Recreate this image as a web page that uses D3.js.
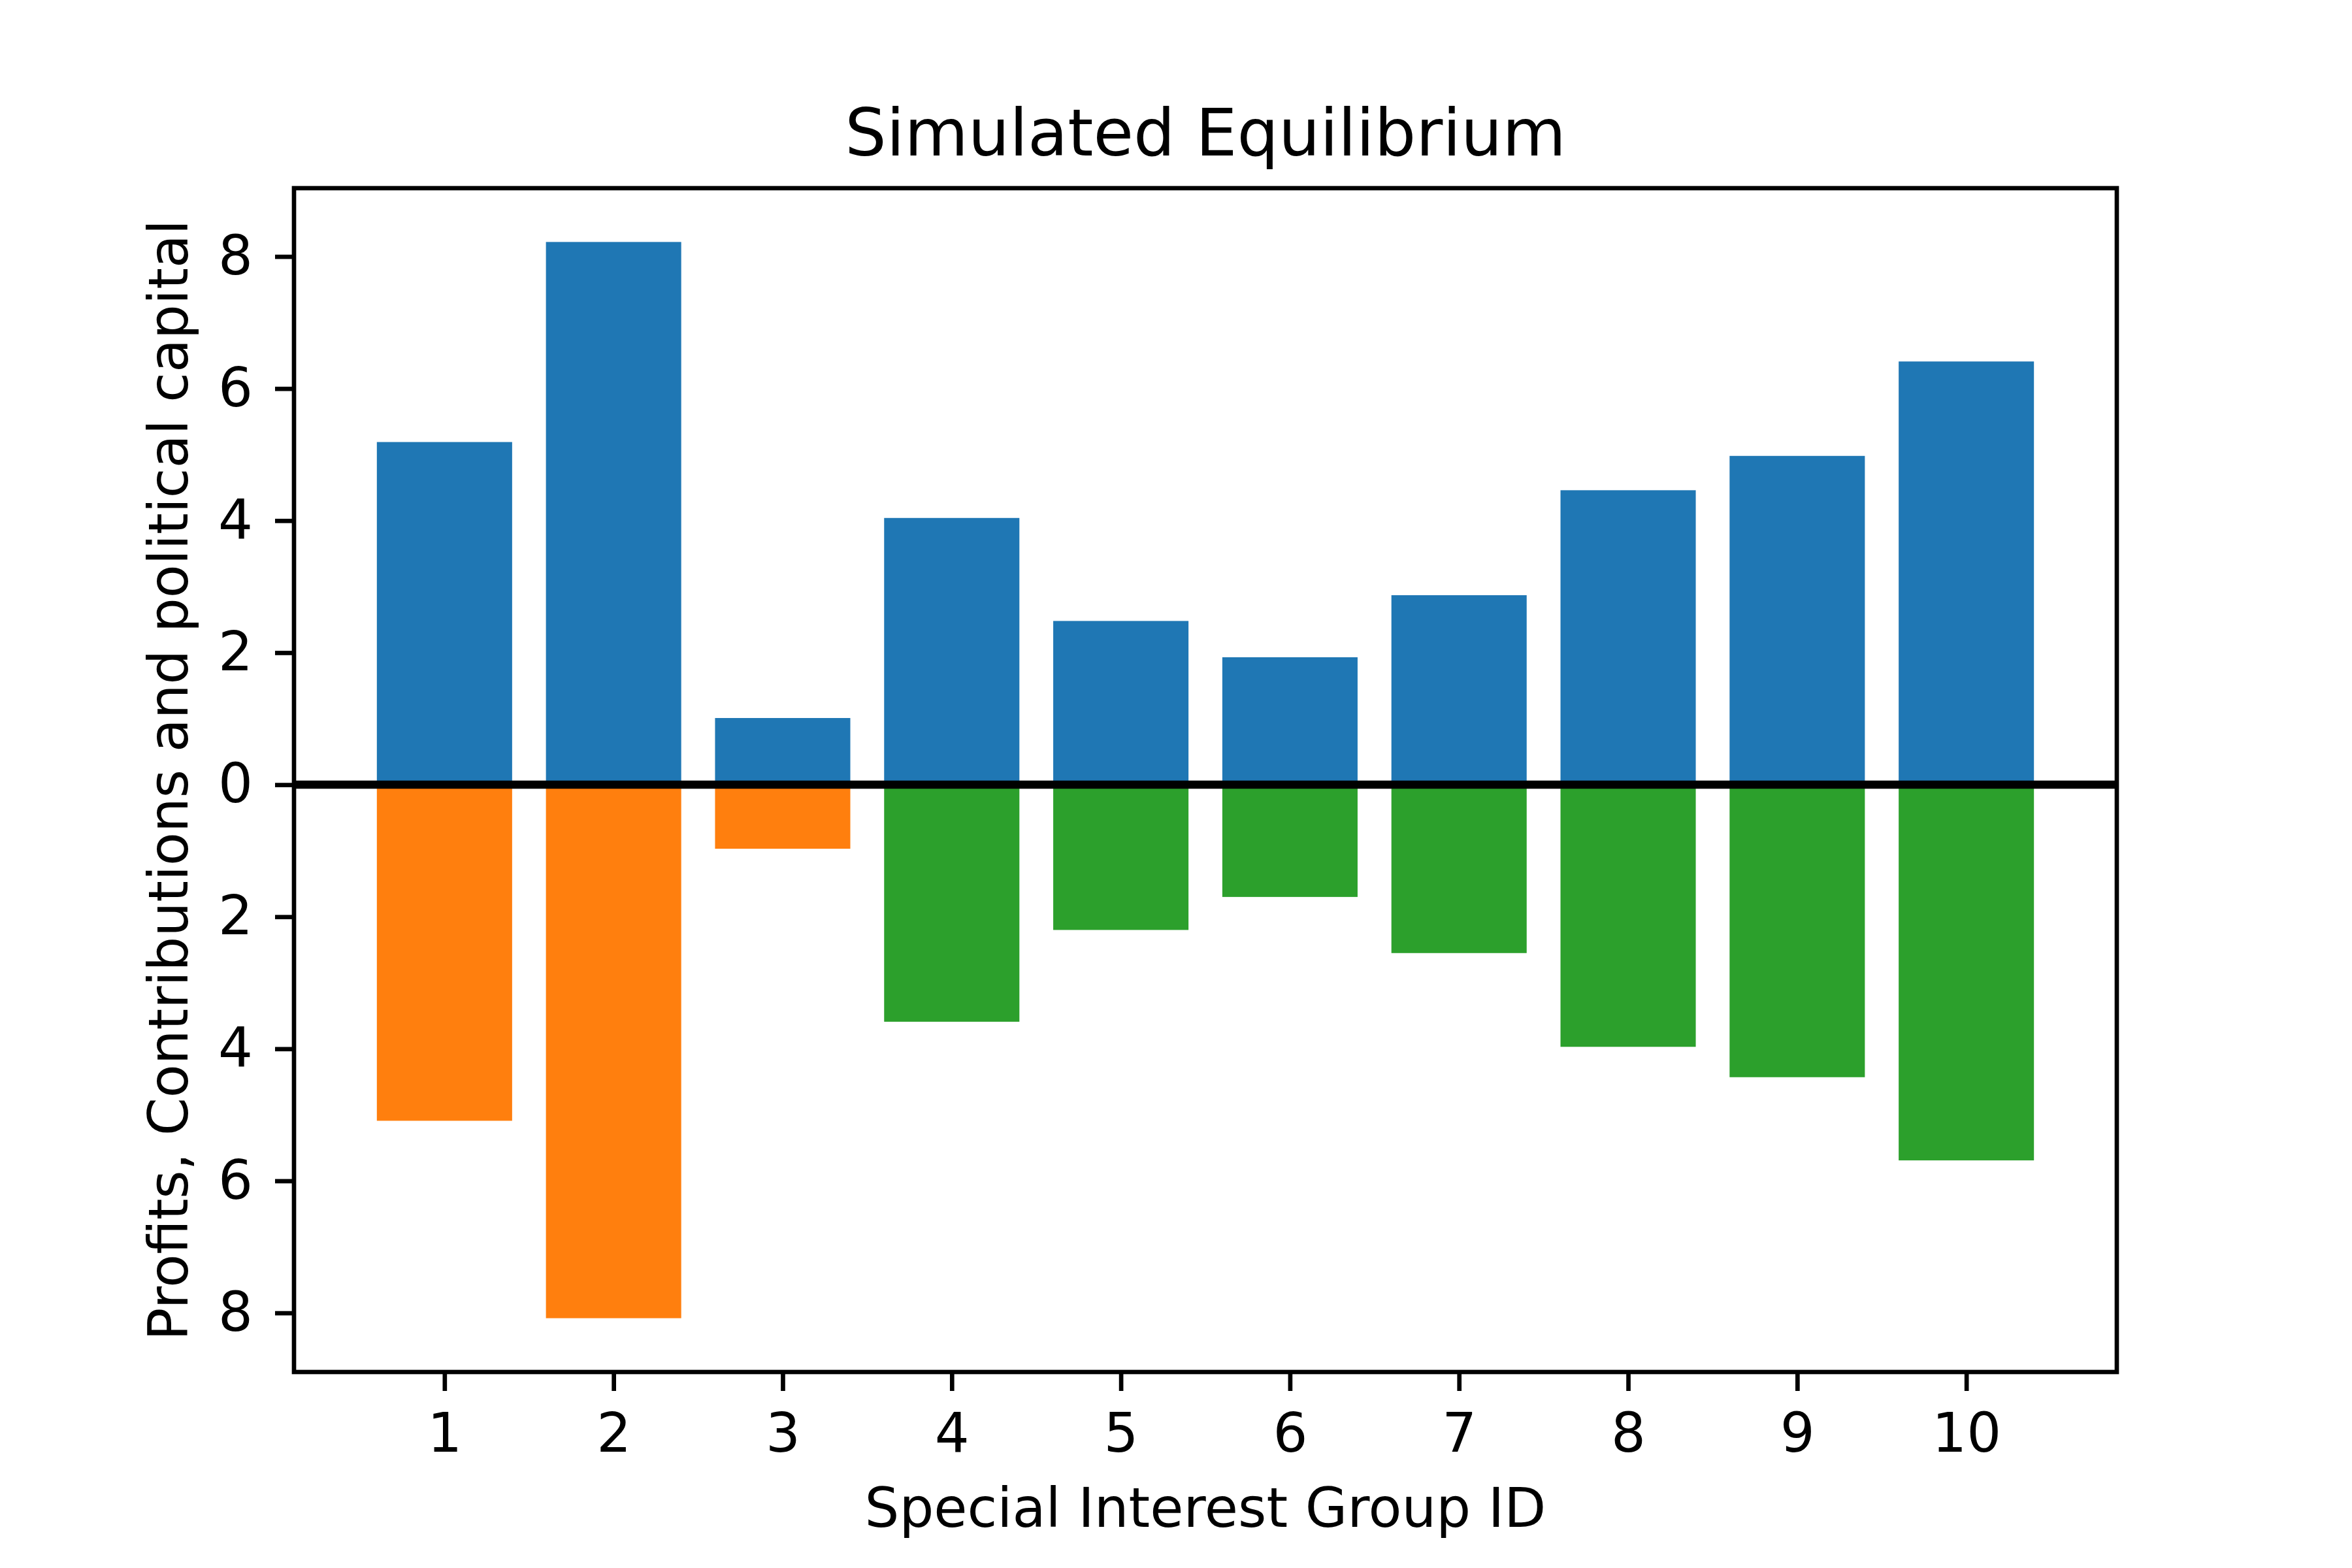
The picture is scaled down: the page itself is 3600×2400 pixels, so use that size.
<!DOCTYPE html>
<html>
<head>
<meta charset="utf-8">
<script src="https://cdn.jsdelivr.net/npm/d3@7"></script>
<style>
  body { margin: 0; background: #fff; }
  text { font-family: "DejaVu Sans", sans-serif; fill: #000; }
</style>
</head>
<body>
<svg id="chart"></svg>
<script>
// values
const groups = [1, 2, 3, 4, 5, 6, 7, 8, 9, 10];
const profits = [5.19, 8.22, 1.01, 4.04, 2.48, 1.93, 2.87, 4.46, 4.98, 6.41];
const lowerValues = [5.09, 8.08, 0.97, 3.59, 2.20, 1.70, 2.55, 3.97, 4.43, 5.69];
const lowerKind = ["contribution", "contribution", "contribution",
                   "capital", "capital", "capital", "capital", "capital", "capital", "capital"];
const yTicks = [-8, -6, -4, -2, 0, 2, 4, 6, 8];

const colors = { profit: "#1f77b4", contribution: "#ff7f0e", capital: "#2ca02c" };

const W = 3600, H = 2400;
const plotLeft = 450, plotRight = 3240, plotTop = 288, plotBottom = 2100;
const tickLen = 29, lw = 6.67;

const svg = d3.select("#chart").attr("width", W).attr("height", H);

const barW = 0.8;
const xLo = d3.min(groups) - barW / 2, xHi = d3.max(groups) + barW / 2;
const xPad = (xHi - xLo) * 0.05;
const x = d3.scaleLinear().domain([xLo - xPad, xHi + xPad]).range([plotLeft, plotRight]);

const yMax = d3.max(profits), yMin = -d3.max(lowerValues);
const yPad = (yMax - yMin) * 0.05;
const y = d3.scaleLinear().domain([yMin - yPad, yMax + yPad]).range([plotBottom, plotTop]);

// upper bars
svg.append("g").selectAll("rect")
   .data(groups)
   .enter()
   .append("rect")
   .attr("x", (d) => x(d - barW / 2))
   .attr("width", (d) => x(d + barW / 2) - x(d - barW / 2))
   .attr("y", (d, i) => y(profits[i]))
   .attr("height", (d, i) => y(0) - y(profits[i]))
   .attr("fill", colors.profit);

// lower bars
svg.append("g").selectAll("rect")
   .data(groups)
   .enter()
   .append("rect")
   .attr("x", (d) => x(d - barW / 2))
   .attr("width", (d) => x(d + barW / 2) - x(d - barW / 2))
   .attr("y", y(0))
   .attr("height", (d, i) => y(-lowerValues[i]) - y(0))
   .attr("fill", (d, i) => colors[lowerKind[i]]);

// zero line
svg.append("line")
   .attr("x1", plotLeft).attr("x2", plotRight)
   .attr("y1", y(0)).attr("y2", y(0))
   .attr("stroke", "#000")
   .attr("stroke-width", 12.5);

// axes
const xAxis = svg.append("g")
   .attr("transform", `translate(0,${plotBottom})`)
   .call(d3.axisBottom(x).tickValues(groups).tickFormat(d3.format("d"))
          .tickSize(tickLen).tickPadding(34));
const yAxis = svg.append("g")
   .attr("transform", `translate(${plotLeft},0)`)
   .call(d3.axisLeft(y).tickValues(yTicks).tickFormat((d) => Math.abs(d))
          .tickSize(tickLen).tickPadding(34));

[xAxis, yAxis].forEach((g) => {
    g.select(".domain").remove();
    g.selectAll(".tick line").attr("stroke", "#000").attr("stroke-width", lw);
    g.selectAll(".tick text")
     .style("font-family", "'DejaVu Sans', sans-serif")
     .style("font-size", "83.3px")
     .attr("fill", "#000");
});

// spines
svg.append("rect")
   .attr("x", plotLeft).attr("y", plotTop)
   .attr("width", plotRight - plotLeft).attr("height", plotBottom - plotTop)
   .attr("fill", "none")
   .attr("stroke", "#000")
   .attr("stroke-width", lw);

// title and labels
svg.append("text")
   .attr("x", (plotLeft + plotRight) / 2)
   .attr("y", 238)
   .attr("text-anchor", "middle")
   .style("font-size", "100px")
   .text("Simulated Equilibrium");

svg.append("text")
   .attr("x", (plotLeft + plotRight) / 2)
   .attr("y", 2337)
   .attr("text-anchor", "middle")
   .style("font-size", "83.3px")
   .text("Special Interest Group ID");

svg.append("text")
   .attr("transform", `translate(287,${(plotTop + plotBottom) / 2}) rotate(-90)`)
   .attr("text-anchor", "middle")
   .style("font-size", "83.3px")
   .text("Profits, Contributions and political capital");
</script>
</body>
</html>
